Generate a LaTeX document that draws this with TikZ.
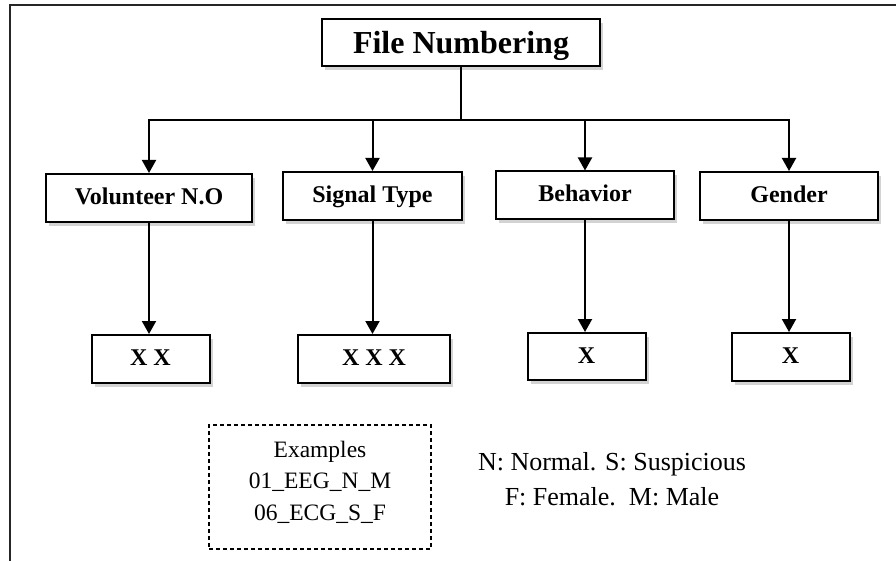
\documentclass[tikz,border=0pt]{standalone}
\usepackage{fontspec}
\setmainfont{Liberation Serif}
\usetikzlibrary{arrows.meta,shadows}
\begin{document}
\begin{tikzpicture}[x=1pt,y=-1pt,
  box/.style={draw=black, line width=2pt, fill=white, inner sep=0pt,
    text height=16pt, text depth=3pt,
    font=\fontsize{24}{28}\selectfont\bfseries,
    drop shadow={shadow xshift=3pt, shadow yshift=-4pt, opacity=0.35}},
  conn/.style={draw=black, line width=2pt},
  arr/.style={conn, -{Triangle[width=14pt,length=13pt]}},
  frame/.style={draw=black!85, line width=2.2pt},
  exbox/.style={draw=black, line width=1.1pt, dash pattern=on 4pt off 3pt, inner sep=0pt},
  extext/.style={align=center, inner sep=0pt, font=\fontsize{23.5}{31.5}\selectfont},
  legend/.style={align=center, inner sep=0pt, font=\fontsize{26}{35}\selectfont}]
\useasboundingbox (0,0) rectangle (896,561);
% outer frame (top and left edges only)
\coordinate (ftl) at (10,5);
\coordinate (ftr) at (896,5);
\coordinate (fbl) at (10,561);
\draw[frame] (ftr) -- (ftl) -- (fbl);
% boxes
\node[box, minimum width=278pt, minimum height=47pt, text height=21pt, text depth=0pt,
      font=\fontsize{32}{36}\selectfont\bfseries] (top) at (461,43) {File Numbering};
\node[box, minimum width=206pt, minimum height=48pt] (vol) at (149,198) {Volunteer N.O};
\node[box, minimum width=179pt, minimum height=48pt] (sig) at (372.5,196) {Signal Type};
\node[box, minimum width=178pt, minimum height=48pt] (beh) at (585,195.5) {Behavior};
\node[box, minimum width=178pt, minimum height=48pt] (gen) at (789,196) {Gender};
\node[box, minimum width=118pt, minimum height=48pt] (xx) at (150.5,359) {X X};
\node[box, minimum width=152pt, minimum height=48pt] (xxx) at (374,359) {X X X};
\node[box, minimum width=118pt, minimum height=47pt] (xb) at (586.5,356.5) {X};
\node[box, minimum width=118pt, minimum height=48pt] (xg) at (790.5,357) {X};
% connectors
\coordinate (bus) at (461,120);
\draw[conn] (top.south) -- (bus);
\draw[arr] (bus) -| (vol.north);
\draw[arr] (bus) -| (sig.north);
\draw[arr] (bus) -| (beh.north);
\draw[arr] (bus) -| (gen.north);
\draw[arr] (vol.south) -- (vol.south |- xx.north);
\draw[arr] (sig.south) -- (sig.south |- xxx.north);
\draw[arr] (beh.south) -- (beh.south |- xb.north);
\draw[arr] (gen.south) -- (gen.south |- xg.north);
% examples
\node[exbox, minimum width=222pt, minimum height=124pt] (ex) at (320,487) {};
\node[extext] (exlines) at (320,482) {Examples\\01\_EEG\_N\_M\\06\_ECG\_S\_F};
% legend
\node[legend] (leg) at (612,479.5) {N: Normal. S: Suspicious\\F: Female.\ \ M: Male};
\end{tikzpicture}
\end{document}
